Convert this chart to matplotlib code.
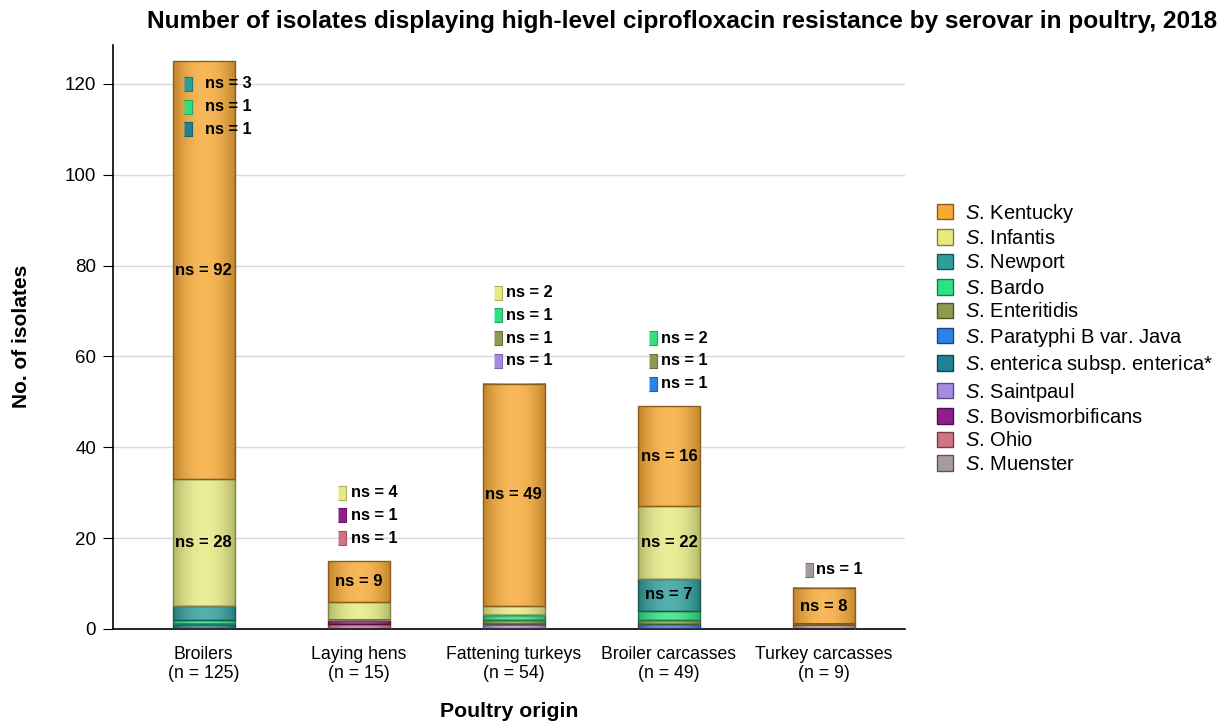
import numpy as np
import matplotlib
matplotlib.use("Agg")
from matplotlib import pyplot as plt
from matplotlib import colors as mcolors
from matplotlib.patches import Patch

plt.rcParams['font.family'] = ['Liberation Sans', 'DejaVu Sans']
plt.rcParams['mathtext.fontset'] = 'custom'
plt.rcParams['mathtext.it'] = 'Liberation Sans:italic'
plt.rcParams['mathtext.rm'] = 'Liberation Sans'

# poultry origins on the x axis
origins = ["Broilers\n(n = 125)", "Laying hens\n(n = 15)", "Fattening turkeys\n(n = 54)",
           "Broiler carcasses\n(n = 49)", "Turkey carcasses\n(n = 9)"]

# serovars, legend order (top of stack first)
serovars = ["Kentucky", "Infantis", "Newport", "Bardo", "Enteritidis", "Paratyphi B var. Java",
            "enterica subsp. enterica*", "Saintpaul", "Bovismorbificans", "Ohio", "Muenster"]
serovar_colors = ["#F7A935", "#E6EA82", "#2E9E9B", "#2FE27F", "#8E9A4E", "#2D83E6",
                  "#1F8290", "#A68BE3", "#8E1F8E", "#D27383", "#A89B9B"]

# bar heights per serovar, one value per origin
kentucky = [92, 9, 49, 22, 8]
infantis = [28, 4, 2, 16, 0]
newport = [3, 0, 0, 7, 0]
bardo = [1, 0, 1, 2, 0]
enteritidis = [0, 0, 1, 1, 0]
paratyphi = [0, 0, 0, 1, 0]
enterica = [1, 0, 0, 0, 0]
saintpaul = [0, 0, 1, 0, 0]
bovismorbificans = [0, 1, 0, 0, 0]
ohio = [0, 1, 0, 0, 0]
muenster = [0, 0, 0, 0, 1]
values = [kentucky, infantis, newport, bardo, enteritidis, paratyphi,
          enterica, saintpaul, bovismorbificans, ohio, muenster]

# "ns = .." labels written inside the segments (as printed in the original)
inside_kentucky = ["92", "9", "49", "16", "8"]
inside_infantis = ["28", "", "", "22", ""]
inside_newport = ["", "", "", "7", ""]

# small-count labels listed next to each bar: (serovar index, count)
side_broilers = [(2, 3), (3, 1), (6, 1)]
side_hens = [(1, 4), (8, 1), (9, 1)]
side_turkeys = [(1, 2), (3, 1), (4, 1), (7, 1)]
side_carcasses = [(3, 2), (4, 1), (5, 1)]
side_turkey_carc = [(10, 1)]
side_lists = [side_broilers, side_hens, side_turkeys, side_carcasses, side_turkey_carc]


def shade(ax, patch, color):
    h = patch.get_height()
    if h <= 0:
        return
    x0, y0, w = patch.get_x(), patch.get_y(), patch.get_width()
    rgb = np.array(mcolors.to_rgb(color))
    t = np.linspace(-1, 1, 80)
    light = rgb + (1 - rgb) * 0.18
    dark = rgb * 0.78
    k = (t ** 2)[:, None]
    row = light * (1 - k) + dark * k
    ax.imshow(row[None, :, :], extent=[x0, x0 + w, y0, y0 + h], aspect='auto',
              clip_path=patch, zorder=2, interpolation='bilinear')


fig = plt.figure(figsize=(12.26, 7.22), dpi=100)
ax = fig.add_axes([0.092, 0.129, 0.646, 0.809])

x = np.arange(len(origins))
width = 0.4
bottom = np.zeros(len(origins))
bars_by_serovar = []
# stack from the last legend entry upwards
for i in range(len(serovars) - 1, -1, -1):
    vals = np.array(values[i], dtype=float)
    edge = tuple(np.array(mcolors.to_rgb(serovar_colors[i])) * 0.55)
    bars = ax.bar(x, vals, width, bottom=bottom, facecolor='none', edgecolor=edge,
                  linewidth=1.0, zorder=3)
    for b in bars:
        shade(ax, b, serovar_colors[i])
    bars_by_serovar.append((i, bars, bottom.copy()))
    bottom += vals

# inside labels
inside = {0: inside_kentucky, 1: inside_infantis, 2: inside_newport}
for i, bars, bot in bars_by_serovar:
    if i not in inside:
        continue
    for j, b in enumerate(bars):
        txt = inside[i][j]
        if txt:
            ax.text(b.get_x() + b.get_width() / 2, bot[j] + values[i][j] / 2, "ns = " + txt,
                    ha='center', va='center', fontsize=12, fontweight='bold', zorder=5)

# side labels with small markers
first_y = [120, 30, 74, 64, 13]
marker_dx = [-0.10, -0.11, -0.10, -0.10, -0.10]
text_dx = [0.01, -0.05, -0.05, -0.05, -0.05]
marker_shape = [(-0.55, -1), (0.55, -1), (0.55, 1), (-0.55, 1)]
for j, entries in enumerate(side_lists):
    for k, (si, cnt) in enumerate(entries):
        yy = first_y[j] - 5 * k
        col = serovar_colors[si]
        ax.plot(x[j] + marker_dx[j], yy, marker=marker_shape, markersize=10, color=col,
                markeredgecolor=tuple(np.array(mcolors.to_rgb(col)) * 0.75),
                markeredgewidth=0.8, zorder=6, clip_on=False)
        ax.text(x[j] + text_dx[j], yy, "ns = %d" % cnt, ha='left', va='center',
                fontsize=11.8, fontweight='bold', zorder=6)

ax.set_xlim(-0.585, 4.52)
ax.set_ylim(0, 128.6)
ax.set_yticks(range(0, 121, 20))
ax.set_xticks(x)
ax.set_xticklabels(origins, fontsize=12.7)
ax.tick_params(axis='x', length=0, pad=12)
ax.tick_params(axis='y', labelsize=13.5, length=7, direction='out', pad=5)
for sp in ['top', 'right']:
    ax.spines[sp].set_visible(False)
ax.spines['left'].set_linewidth(1.2)
ax.spines['bottom'].set_linewidth(1.2)
ax.yaxis.grid(True, color='#D9D9D9', linewidth=1.0, zorder=0)
ax.set_axisbelow(True)

ax.set_ylabel("No. of isolates", fontsize=15, fontweight='bold', labelpad=24)
ax.set_xlabel("Poultry origin", fontsize=15.3, fontweight='bold', labelpad=14)

fig.text(0.556, 0.970, "Number of isolates displaying high-level ciprofloxacin resistance by serovar in poultry, 2018",
         ha='center', va='center', fontsize=17.6, fontweight='bold')

handles = [Patch(facecolor=c, edgecolor=tuple(np.array(mcolors.to_rgb(c)) * 0.55), linewidth=1.0)
           for c in serovar_colors]
labels = [r"$\it{S}$. " + s for s in serovars]
fig.legend(handles, labels, loc='upper left', bbox_to_anchor=(0.758, 0.732), frameon=False,
           fontsize=14.5, handlelength=0.8, handleheight=0.8, handletextpad=0.55,
           labelspacing=0.22, borderaxespad=0)

fig.savefig("out.png", dpi=100)
